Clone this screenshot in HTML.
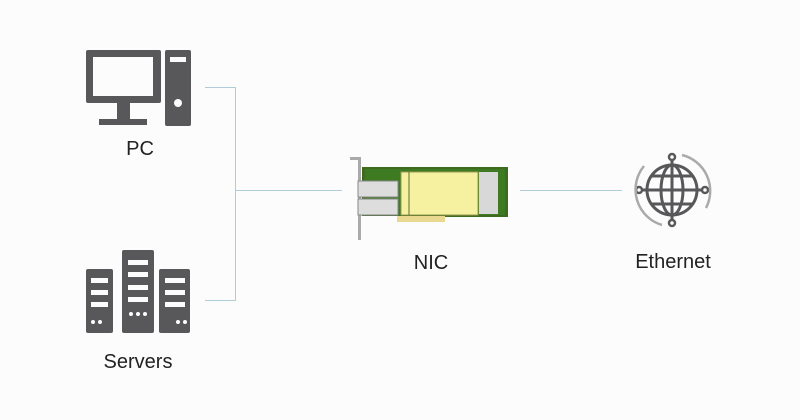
<!DOCTYPE html>
<html><head><style>
body{margin:0;width:800px;height:420px;background:#fcfcfc;overflow:hidden;font-family:"Liberation Sans","DejaVu Sans",sans-serif}
.t{position:absolute;font-size:20px;color:#222;transform:translateX(-50%)}
</style></head><body>
<svg width="800" height="420" style="position:absolute;left:0;top:0">
<g stroke="#b0ccd8" stroke-width="1" fill="none">
<path d="M205 87.5H235.5V300.5H205M235.5 190.5H342M520 190.5H622"/>
</g>
<g fill="#58585a">
<rect x="86" y="50" width="75" height="53" rx="2"/>
<rect x="117" y="102" width="13" height="18"/>
<rect x="99" y="119" width="48" height="6"/>
<rect x="165" y="50" width="26" height="76" rx="2"/>
</g>
<rect x="93" y="57" width="60" height="39" fill="#fcfcfc"/>
<rect x="170" y="57" width="16" height="5" fill="#fcfcfc"/>
<circle cx="178" cy="103" r="4" fill="#fcfcfc"/>
<g fill="#58585a">
<rect x="86" y="269" width="27" height="64" rx="2"/>
<rect x="122" y="250" width="32" height="83" rx="2"/>
<rect x="159" y="269" width="31" height="64" rx="2"/>
</g>
<g fill="#fcfcfc">
<rect x="91" y="278" width="17" height="5"/><rect x="91" y="290" width="17" height="5"/><rect x="91" y="302" width="17" height="5"/>
<circle cx="93" cy="322" r="2"/><circle cx="100" cy="322" r="2"/>
<rect x="128" y="260" width="20" height="5"/><rect x="128" y="272" width="20" height="5"/><rect x="128" y="285" width="20" height="5"/><rect x="128" y="297" width="20" height="5"/>
<circle cx="131" cy="314" r="2"/><circle cx="138" cy="314" r="2"/><circle cx="145" cy="314" r="2"/>
<rect x="165" y="278" width="20" height="5"/><rect x="165" y="290" width="20" height="5"/><rect x="165" y="302" width="20" height="5"/>
<circle cx="178" cy="322" r="2"/><circle cx="185" cy="322" r="2"/>
</g>
<path d="M350 157H361V240H358V160H350Z" fill="#aaa"/>
<rect x="362" y="167" width="146" height="50" fill="#3f6b1f"/>
<rect x="365" y="169" width="140" height="46" fill="#3d7a22"/>
<rect x="401" y="172" width="77" height="43" fill="#f5f1a0" stroke="#9a9a50" stroke-width="1"/>
<line x1="409" y1="172" x2="409" y2="215" stroke="#5a7030"/>
<rect x="479" y="172" width="19" height="42" fill="#d8d8d8"/>
<rect x="358" y="181" width="40" height="16" fill="#ddd" stroke="#888"/>
<rect x="358" y="199" width="40" height="16" fill="#ddd" stroke="#888"/>
<rect x="397" y="216" width="48" height="6" fill="#e8d890"/>
<rect x="362" y="216" width="35" height="8" fill="#fcfcfc"/>
<g fill="none" stroke="#58585a" stroke-width="3">
<circle cx="672" cy="190" r="25"/>
<ellipse cx="672" cy="190" rx="11" ry="25"/>
<line x1="647" y1="190" x2="697" y2="190"/>
<line x1="672" y1="165" x2="672" y2="215"/>
<path d="M652 176H692M652 204H692"/>
<line x1="641" y1="190" x2="647" y2="190"/><line x1="697" y1="190" x2="703" y2="190"/>
<line x1="672" y1="159" x2="672" y2="165"/><line x1="672" y1="215" x2="672" y2="221"/>
</g>
<g fill="#fcfcfc" stroke="#58585a" stroke-width="2.5">
<circle cx="639" cy="190" r="3"/><circle cx="705" cy="190" r="3"/>
<circle cx="672" cy="157" r="3"/><circle cx="672" cy="223" r="3"/>
</g>
<g fill="none" stroke="#aaa" stroke-width="2.5">
<path d="M682 155A37 37 0 0 1 706 208"/>
<path d="M662 225A37 37 0 0 1 644 166"/>
</g>
</svg>
<div class="t" style="left:140px;top:138px">PC</div>
<div class="t" style="left:138px;top:351px">Servers</div>
<div class="t" style="left:431px;top:252px">NIC</div>
<div class="t" style="left:673px;top:251px">Ethernet</div>
</body></html>
